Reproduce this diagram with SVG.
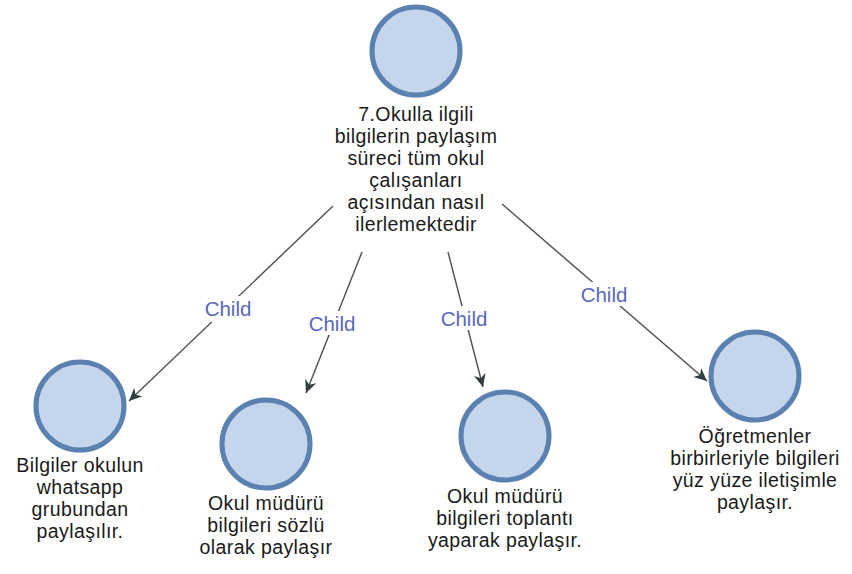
<svg xmlns="http://www.w3.org/2000/svg" width="852" height="574" viewBox="0 0 852 574">
  <style>
    .node circle { fill: #c5d6ec; stroke: #5a81b0; stroke-width: 5; }
    .node text { font-family: "Liberation Sans", Arial, sans-serif; font-size: 19.5px; letter-spacing: 0.4px; fill: #1a1a1a; text-anchor: middle; }
    .edge { stroke: #4b4f4f; stroke-width: 1.4; fill: none; marker-end: url(#arrow); }
    .label rect { fill: #ffffff; }
    .label text { font-family: "Liberation Sans", Arial, sans-serif; font-size: 20.5px; fill: #5868bb; text-anchor: middle; }
  </style>
  <defs>
    <marker id="arrow" markerUnits="userSpaceOnUse" markerWidth="14" markerHeight="12" refX="13" refY="6" orient="auto">
      <path d="M0,0 L13,6 L0,12 L4,6 Z" fill="#2f3e3e"/>
    </marker>
  </defs>
  <rect width="852" height="574" fill="#ffffff"/>

  <!-- connectors, each broken by its "Child" label -->
  <g id="connectors">
    <line class="edge" x1="333" y1="206" x2="129" y2="401"/>
    <line class="edge" x1="362" y1="252" x2="306" y2="393"/>
    <line class="edge" x1="448" y1="252" x2="483" y2="387"/>
    <line class="edge" x1="502" y1="204" x2="707" y2="381"/>
    <g class="label">
      <rect x="202" y="296" width="52" height="26"/>
      <text x="228" y="316">Child</text>
    </g>
    <g class="label">
      <rect x="306" y="311" width="52" height="24"/>
      <text x="332" y="331">Child</text>
    </g>
    <g class="label">
      <rect x="438" y="306" width="52" height="24"/>
      <text x="464" y="326">Child</text>
    </g>
    <g class="label">
      <rect x="578" y="282" width="52" height="24"/>
      <text x="604" y="302">Child</text>
    </g>
  </g>

  <!-- root node -->
  <g id="node-root" class="node">
    <circle cx="416" cy="51" r="44"/>
    <text x="416" y="121">7.Okulla ilgili</text>
    <text x="416" y="143">bilgilerin paylaşım</text>
    <text x="416" y="165">süreci tüm okul</text>
    <text x="416" y="187">çalışanları</text>
    <text x="416" y="209">açısından nasıl</text>
    <text x="416" y="231">ilerlemektedir</text>
  </g>

  <g id="node-whatsapp" class="node">
    <circle cx="80" cy="406" r="44"/>
    <text x="80" y="472">Bilgiler okulun</text>
    <text x="80" y="494">whatsapp</text>
    <text x="80" y="516">grubundan</text>
    <text x="80" y="538">paylaşılır.</text>
  </g>

  <g id="node-sozlu" class="node">
    <circle cx="266" cy="444" r="44"/>
    <text x="266" y="510">Okul müdürü</text>
    <text x="266" y="532">bilgileri sözlü</text>
    <text x="266" y="554">olarak paylaşır</text>
  </g>

  <g id="node-toplanti" class="node">
    <circle cx="505" cy="436" r="44"/>
    <text x="505" y="503">Okul müdürü</text>
    <text x="505" y="525">bilgileri toplantı</text>
    <text x="505" y="547">yaparak paylaşır.</text>
  </g>

  <g id="node-yuzyuze" class="node">
    <circle cx="755" cy="376" r="44"/>
    <text x="755" y="443">Öğretmenler</text>
    <text x="755" y="465">birbirleriyle bilgileri</text>
    <text x="755" y="487">yüz yüze iletişimle</text>
    <text x="755" y="509">paylaşır.</text>
  </g>
</svg>
